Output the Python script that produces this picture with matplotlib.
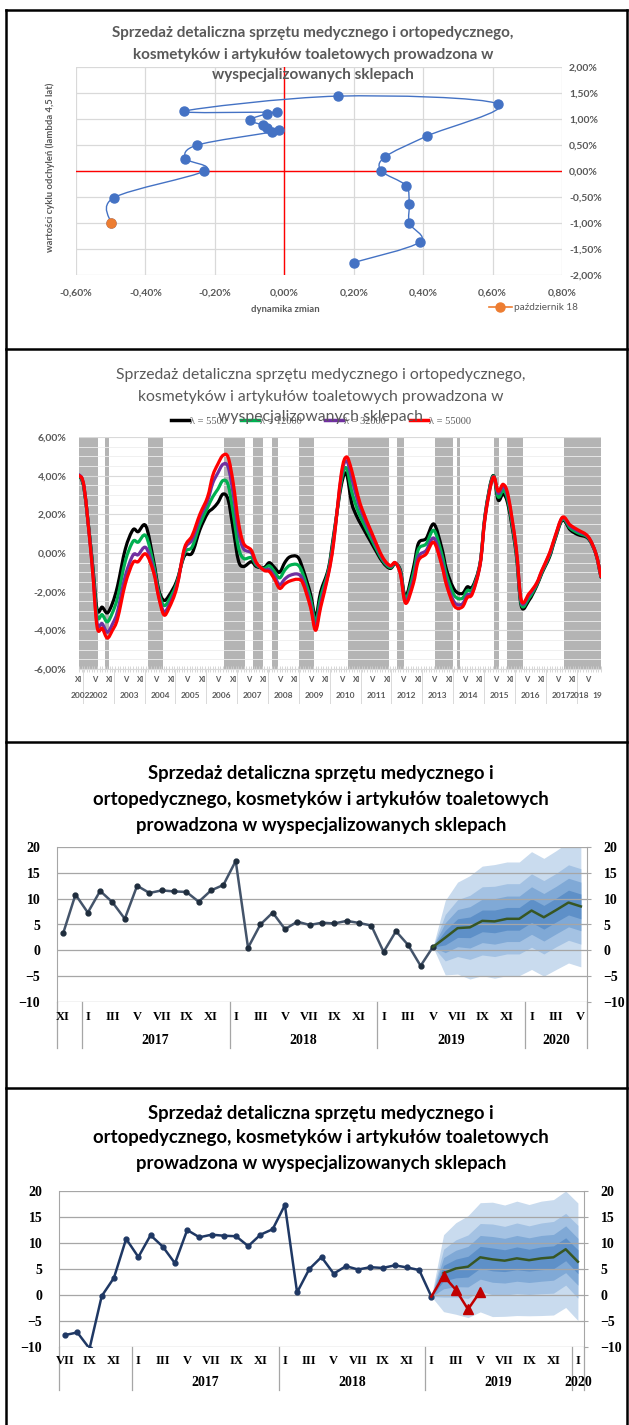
import numpy as np
import matplotlib.pyplot as plt
import matplotlib.transforms as mtransforms
from matplotlib.path import Path
from matplotlib.patches import PathPatch
from matplotlib.lines import Line2D

W, H = 629, 1425
SANS = ['Lato', 'DejaVu Sans']
SERIF = ['Liberation Serif', 'DejaVu Serif']
GREY = '#595959'
ROMAN = ['I', 'II', 'III', 'IV', 'V', 'VI', 'VII', 'VIII', 'IX', 'X', 'XI', 'XII']

# ---------------- panel 1: zegar koniunktury ----------------
clock_x = [0.20, 0.39, 0.36, 0.36, 0.35, 0.28, 0.29, 0.41, 0.615, 0.155, -0.29, -0.02,
           -0.05, -0.10, -0.06, -0.05, -0.015, -0.035, -0.25, -0.285, -0.23, -0.49, -0.50]
clock_y = [-1.76, -1.37, -1.00, -0.63, -0.28, 0.00, 0.27, 0.67, 1.29, 1.44, 1.15, 1.13,
           1.10, 0.98, 0.88, 0.83, 0.79, 0.75, 0.50, 0.24, 0.00, -0.51, -1.00]
last_label = 'październik 18'

# ---------------- panel 2: cykl dla 4 lambd (miesiące od XI 2001) ----------------
cyc_idx = [0, 2, 5, 7, 9, 11, 13, 15, 18, 21, 23, 26, 29, 31, 33, 35, 38, 41, 44, 47, 50,
           52, 54, 56, 58, 60, 62, 64, 67, 69, 72, 74, 76, 78, 80, 82, 85, 87, 90, 92, 94,
           97, 99, 102, 104, 106, 108, 110, 114, 118, 121, 123, 125, 127, 130, 132, 135,
           138, 141, 143, 146, 149, 151, 153, 156, 158, 161, 163, 165, 167, 170, 172, 175,
           178, 180, 183, 185, 188, 191, 194, 198, 201, 203]
cyc_5500 = [4.0, 3.3, -0.2, -2.9, -2.8, -3.1, -2.6, -1.7, 0.2, 1.2, 1.1, 1.4, -0.4, -1.9,
            -2.45, -2.2, -1.45, -0.15, 0.0, 1.2, 2.05, 2.3, 2.6, 3.05, 2.75, 1.2, -0.4, -0.7,
            -0.45, -0.7, -0.75, -0.5, -0.75, -1.0, -0.5, -0.2, -0.2, -0.8, -2.1, -3.3, -2.0,
            -0.8, 0.9, 3.5, 4.1, 2.6, 1.9, 1.4, 0.45, -0.45, -0.8, -0.55, -0.9, -2.25, -0.8,
            0.5, 0.75, 1.5, 0.3, -0.9, -1.9, -2.1, -1.75, -1.75, -0.5, 2.05, 4.0, 2.74, 3.05,
            2.4, -0.02, -2.75, -2.45, -1.7, -1.05, -0.2, 0.65, 1.7, 1.2, 0.95, 0.75, -0.05, -1.25]
cyc_12000 = [4.0, 3.33, -0.3, -3.22, -3.19, -3.56, -3.09, -2.3, -0.43, 0.6, 0.56, 0.89, -0.61,
             -2.04, -2.71, -2.43, -1.57, -0.01, 0.32, 1.48, 2.35, 2.9, 3.3, 3.75, 3.52, 2.04,
             0.3, -0.28, -0.24, -0.63, -0.8, -0.66, -0.96, -1.29, -0.89, -0.64, -0.61, -1.06,
             -2.35, -3.55, -2.28, -0.9, 0.76, 3.71, 4.4, 3.2, 2.36, 1.72, 0.64, -0.36, -0.75,
             -0.53, -0.97, -2.37, -1.08, 0.19, 0.47, 1.17, -0.02, -1.18, -2.2, -2.35, -1.94,
             -1.87, -0.54, 2.0, 3.97, 2.9, 3.23, 2.58, 0.09, -2.65, -2.33, -1.65, -1.0, -0.13,
             0.7, 1.75, 1.29, 1.04, 0.79, -0.04, -1.24]
cyc_32000 = [4.05, 3.38, -0.43, -3.59, -3.65, -4.1, -3.68, -3.01, -1.19, -0.11, -0.09, 0.28,
             -0.86, -2.21, -3.03, -2.7, -1.72, 0.16, 0.69, 1.82, 2.7, 3.61, 4.14, 4.59, 4.44,
             3.05, 1.14, 0.22, 0.01, -0.55, -0.87, -0.85, -1.21, -1.64, -1.35, -1.16, -1.09,
             -1.38, -2.64, -3.84, -2.62, -1.03, 0.59, 3.96, 4.77, 3.91, 2.9, 2.09, 0.87, -0.26,
             -0.68, -0.51, -1.05, -2.52, -1.42, -0.19, 0.13, 0.77, -0.39, -1.52, -2.55, -2.64,
             -2.17, -2.02, -0.58, 1.93, 3.92, 3.09, 3.44, 2.79, 0.23, -2.52, -2.18, -1.58,
             -0.93, -0.05, 0.77, 1.82, 1.39, 1.14, 0.83, -0.03, -1.23]
cyc_55000 = [4.0, 3.4, -0.5, -3.8, -3.9, -4.4, -4.0, -3.4, -1.6, -0.5, -0.45, -0.05, -1.0,
             -2.3, -3.2, -2.85, -1.8, 0.25, 0.9, 2.0, 2.9, 4.0, 4.6, 5.05, 4.95, 3.6, 1.6, 0.5,
             0.15, -0.5, -0.9, -0.96, -1.35, -1.83, -1.6, -1.45, -1.36, -1.55, -2.8, -4.0, -2.8,
             -1.1, 0.5, 4.1, 4.97, 4.3, 3.2, 2.3, 1.0, -0.2, -0.65, -0.5, -1.1, -2.6, -1.6,
             -0.4, -0.05, 0.55, -0.6, -1.7, -2.75, -2.8, -2.3, -2.1, -0.6, 1.9, 3.9, 3.2, 3.55,
             2.9, 0.3, -2.45, -2.1, -1.55, -0.9, 0.0, 0.8, 1.85, 1.45, 1.2, 0.85, -0.02, -1.22]
lambda_labels = ['λ = 5500', 'λ = 12000', 'λ = 32000', 'λ = 55000']
band_start = [0, 10, 27, 56.5, 67.5, 75, 85.5, 104.5, 123.5, 138.5, 147, 161.5, 166.5, 188.5]
band_end = [7.5, 11.5, 32.5, 64.5, 71.5, 77.5, 91.5, 120.5, 126.5, 145.5, 148, 163.5, 172.5, 203]
p2_years = ['2002', '2002', '2003', '2004', '2005', '2006', '2007', '2008', '2009', '2010',
            '2011', '2012', '2013', '2014', '2015', '2016', '2017', '2018', '19']

# ---------------- panel 3: dane XI 2016 - V 2019 + prognoza do V 2020 ----------------
hist3 = [3.3, 10.8, 7.3, 11.5, 9.3, 6.1, 12.5, 11.1, 11.6, 11.4, 11.3, 9.4, 11.6, 12.65,
         17.3, 0.5, 5.0, 7.3, 4.1, 5.55, 4.9, 5.35, 5.2, 5.7, 5.3, 4.8, -0.3, 3.7, 1.0, -3.0, 0.65]
fc3 = [0.65, 2.45, 4.3, 4.45, 5.7, 5.6, 6.1, 6.1, 7.7, 6.4, 7.8, 9.25, 8.5]
fan3_w1 = [0, 7.2, 8.9, 10.0, 10.6, 11.0, 11.0, 11.0, 11.4, 11.4, 11.5, 11.7, 11.7]
fan3_w2 = [0, 4.5, 5.5, 6.2, 6.6, 6.8, 6.8, 6.8, 7.1, 7.1, 7.1, 7.3, 7.3]
fan3_w3 = [0, 2.9, 3.6, 4.0, 4.2, 4.4, 4.4, 4.4, 4.6, 4.6, 4.6, 4.7, 4.7]
fan3_w4 = [0, 1.4, 1.8, 2.0, 2.1, 2.2, 2.2, 2.2, 2.3, 2.3, 2.3, 2.4, 2.4]

# ---------------- panel 4: dane VII 2016 - I 2019, realizacja II-V 2019, prognoza do I 2020 ----
hist4 = [-7.7, -7.2, -10.3, -0.2, 3.3, 10.8, 7.3, 11.5, 9.3, 6.1, 12.5, 11.1, 11.6, 11.4,
         11.3, 9.4, 11.6, 12.65, 17.3, 0.5, 5.0, 7.3, 4.1, 5.55, 4.9, 5.35, 5.2, 5.7, 5.3, 4.8, -0.3]
real4 = [-0.3, 3.7, 1.0, -2.75, 0.65]
fc4 = [-0.3, 4.2, 5.1, 5.45, 7.25, 6.85, 6.6, 7.05, 6.7, 7.05, 7.25, 8.8, 6.4]
fan4_w1 = [0, 7.4, 8.8, 9.8, 10.5, 11.0, 10.7, 11.0, 10.7, 11.0, 11.1, 11.2, 11.3]
fan4_w2 = [0, 4.6, 5.5, 6.1, 6.5, 6.8, 6.6, 6.8, 6.6, 6.8, 6.9, 6.9, 7.0]
fan4_w3 = [0, 3.0, 3.5, 3.9, 4.2, 4.4, 4.3, 4.4, 4.3, 4.4, 4.4, 4.5, 4.5]
fan4_w4 = [0, 1.5, 1.8, 2.0, 2.1, 2.2, 2.1, 2.2, 2.1, 2.2, 2.2, 2.2, 2.3]

title_lines = ['Sprzedaż detaliczna sprzętu medycznego i ortopedycznego,',
               'kosmetyków i artykułów toaletowych prowadzona w',
               'wyspecjalizowanych sklepach']
title_lines_b = ['Sprzedaż detaliczna sprzętu medycznego i',
                 'ortopedycznego, kosmetyków i artykułów toaletowych',
                 'prowadzona w wyspecjalizowanych sklepach']

fig = plt.figure(figsize=(W / 100, H / 100), dpi=100)


def box(x0, y0, x1, y1):
    return [x0 / W, 1 - y1 / H, (x1 - x0) / W, (y1 - y0) / H]


def fy(py):
    return 1 - py / H


def ftext(px, py, s, **kw):
    fig.text(px / W, fy(py), s, **kw)


def pct(v, nd=2):
    s = f'{v:.{nd}f}%'.replace('.', ',')
    return '0,00%' if s == '-0,00%' else s


def smooth(xs, ys):
    # wygładzona linia jak w Excelu (Catmull-Rom -> Bezier)
    p = np.column_stack([xs, ys])
    n = len(p)
    verts, codes = [p[0]], [Path.MOVETO]
    for i in range(n - 1):
        p0 = p[i - 1] if i > 0 else p[i]
        p3 = p[i + 2] if i + 2 < n else p[i + 1]
        verts += [p[i] + (p[i + 1] - p0) / 6, p[i + 1] - (p3 - p[i]) / 6, p[i + 1]]
        codes += [Path.CURVE4] * 3
    return Path(verts, codes)


# ramki paneli
for seg in [((6, 627), (10, 10)), ((6, 6), (10, 1425)), ((627, 627), (10, 1425)),
            ((6, 627), (349, 349)), ((6, 627), (742, 742)), ((6, 627), (1088, 1088))]:
    fig.add_artist(Line2D([x / W for x in seg[0]], [fy(y) for y in seg[1]],
                          color='black', lw=1.8))

# ======== panel 1 ========
ax1 = fig.add_axes(box(76, 67, 562, 275))
ax1.set_xlim(-0.6, 0.8)
ax1.set_ylim(-2, 2)
xt = np.arange(-0.6, 0.81, 0.2)
yt = np.arange(-2, 2.01, 0.5)
ax1.set_xticks(xt, [pct(v) for v in xt])
ax1.set_yticks(yt, [pct(v) for v in yt])
ax1.yaxis.tick_right()
ax1.tick_params(length=0, labelsize=7.5, labelcolor=GREY)
ax1.tick_params(axis='x', pad=10)
ax1.tick_params(axis='y', pad=5)
for lab in ax1.get_xticklabels() + ax1.get_yticklabels():
    lab.set_family(SANS)
    lab.set_weight('bold')
for s in ax1.spines.values():
    s.set_visible(False)
ax1.grid(color='#d9d9d9', lw=0.9)
ax1.axhline(0, color='#ff0000', lw=1.0, zorder=2)
ax1.axvline(0, color='#ff0000', lw=1.0, zorder=2)
ax1.add_patch(PathPatch(smooth(clock_x, clock_y), fc='none', ec='#4472c4', lw=1.0, zorder=3))
ax1.plot(clock_x, clock_y, 'o', color='#4472c4', ms=6.5, zorder=4)
ax1.plot(clock_x[-1:], clock_y[-1:], 'o', color='#ed7d31', ms=6.5, zorder=5)
for i, t in enumerate(title_lines):
    ftext(313, [33, 55, 75][i], t, ha='center', va='center', fontsize=11,
          fontweight='bold', color=GREY, family=SANS)
ftext(50, 167, 'wartości cyklu odchyleń (lambda 4,5 lat)', rotation=90, ha='center',
      va='center', fontsize=6.8, fontweight='bold', color=GREY, family=SANS)
ftext(285, 309, 'dynamika zmian', ha='center', va='center', fontsize=6.8,
      fontweight='bold', color=GREY, family=SANS)
fig.add_artist(Line2D([489 / W, 512 / W], [fy(307)] * 2, color='#ed7d31', lw=1.2))
fig.add_artist(Line2D([500 / W], [fy(307)], marker='o', color='#ed7d31', ms=6.5))
ftext(514, 307, last_label, ha='left', va='center', fontsize=7.2, color=GREY, family=SANS)

# ======== panel 2 ========
ax2 = fig.add_axes(box(79, 437, 601, 669))
ax2.set_xlim(0, 203)
ax2.set_ylim(-6, 6)
yt2 = np.arange(-6, 6.01, 2)
ax2.set_yticks(yt2, [pct(v) for v in yt2])
ax2.set_yticks(np.arange(-6, 6.01, 0.5), minor=True)
ax2.set_xticks([])
ax2.set_xticks(np.arange(0, 204), minor=True)
ax2.tick_params(axis='y', which='both', length=0, labelsize=7.5, labelcolor=GREY, pad=9)
ax2.tick_params(axis='x', which='minor', length=4, color='#d0d0d0', width=0.6, direction='inout')
for lab in ax2.get_yticklabels():
    lab.set_family(SANS)
    lab.set_weight('bold')
for s in ax2.spines.values():
    s.set_visible(False)
ax2.spines['bottom'].set_visible(True)
ax2.spines['bottom'].set_color('#d9d9d9')
ax2.grid(axis='y', which='minor', color='#eeeeee', lw=0.6)
ax2.grid(axis='y', which='major', color='#d9d9d9', lw=0.8)
for b0, b1 in zip(band_start, band_end):
    ax2.axvspan(b0, b1, color='#b4b4b4', lw=0, zorder=1)
cyc_colors = ['#000000', '#00b050', '#7030a0', '#ff0000']
for vals, c in zip([cyc_5500, cyc_12000, cyc_32000, cyc_55000], cyc_colors):
    ax2.add_patch(PathPatch(smooth(cyc_idx, vals), fc='none', ec=c, lw=2.3, zorder=3,
                            joinstyle='round', capstyle='round'))
tr2 = mtransforms.blended_transform_factory(ax2.transData, fig.transFigure)
for i in range(204):
    m = (10 + i) % 12
    if m in (10, 4):
        ax2.text(i, fy(679), ROMAN[m], transform=tr2, ha='center', va='center',
                 fontsize=5.5, color=GREY, family=SANS, fontweight='bold')
    if m == 0:
        ax2.plot([i - 0.5] * 2, [fy(669), fy(703)], transform=tr2, color='#d9d9d9',
                 lw=0.7, clip_on=False)
year_pos = [0.5] + [7.5 + 12 * k for k in range(16)] + [194.5, 201.5]
for yl, xp in zip(p2_years, year_pos):
    ax2.text(xp, fy(696), yl, transform=tr2, ha='center', va='center', fontsize=6,
             color=GREY, family=SANS, fontweight='bold')
for i, t in enumerate(title_lines):
    ftext(321, [375, 397, 417][i], t, ha='center', va='center', fontsize=11.3,
          color=GREY, family=SANS)
for (x0, c, lbl) in zip([171, 241, 325, 410], cyc_colors, lambda_labels):
    fig.add_artist(Line2D([x0 / W, (x0 + 18) / W], [fy(420)] * 2, color=c, lw=2.5))
    ftext(x0 + 19, 421, lbl, ha='left', va='center', fontsize=7.5, color=GREY, family=SERIF)


# ======== panele 3 i 4 (wykresy wachlarzowe) ========
def fan_panel(rect, month0, year0, n, hist, hist_color, mk_color, fc, fan_ws, fc_from,
              real, label_months, title_y, sep_bottom, row_y):
    ax = fig.add_axes(box(*rect))
    ax.set_xlim(-0.5, n - 0.5)
    ax.set_ylim(-10, 20)
    ax.set_yticks(np.arange(-10, 20.1, 5))
    ax.set_xticks([])
    ax.tick_params(axis='y', left=False, right=True, labelleft=True, labelright=True,
                   length=3, color='#a6a6a6', labelsize=10, pad=9)
    for lab in ax.get_yticklabels():
        lab.set_family(SERIF)
        lab.set_weight('bold')
    for s in ['top', 'bottom']:
        ax.spines[s].set_visible(False)
    for s in ['left', 'right']:
        ax.spines[s].set_color('#a6a6a6')
    for v in np.arange(-10, 20.1, 5):
        ax.axhline(v, color='#a6a6a6', lw=0.9, zorder=2)
    xf = np.arange(fc_from, fc_from + len(fc))
    fcv = np.array(fc)
    for w, c in zip(fan_ws, ['#c9dbee', '#a4c2e3', '#80a9d6', '#5e90c8']):
        w = np.array(w)
        ax.fill_between(xf, fcv - w, fcv + w, color=c, lw=0, zorder=1)
    ax.plot(np.arange(len(hist)), hist, color=hist_color, lw=1.8, marker='o', ms=3.5,
            mfc=mk_color, mec=mk_color, zorder=4)
    if real is not None:
        xr = np.arange(len(hist) - 1, len(hist) - 1 + len(real))
        ax.plot(xr, real, color='#c00000', lw=1.8, zorder=5)
        ax.plot(xr[1:], real[1:], '^', color='#c00000', ms=7, zorder=6)
        ax.plot(xf[1:], fc[1:], color='#375623', lw=1.8, zorder=4)
    else:
        ax.plot(xf, fc, color='#375623', lw=1.8, zorder=4)
    tr = mtransforms.blended_transform_factory(ax.transData, fig.transFigure)
    groups = {}
    for i in range(n):
        m = (month0 + i) % 12
        y = year0 + (month0 + i) // 12
        groups.setdefault(y, []).append(i)
        if m in label_months:
            ax.text(i, fy(row_y[0]), ROMAN[m], transform=tr, ha='center', va='center',
                    fontsize=9, fontweight='bold', family=SERIF)
    keys = sorted(groups)
    for y in keys:
        idx = groups[y]
        ax.plot([idx[0] - 0.5] * 2, [fy(rect[3]), fy(sep_bottom)], transform=tr,
                color='#a6a6a6', lw=0.9, clip_on=False)
        if y != keys[0]:
            ax.text((idx[0] + idx[-1]) / 2, fy(row_y[1]), str(y), transform=tr,
                    ha='center', va='center', fontsize=10, fontweight='bold', family=SERIF)
    ax.plot([n - 0.5] * 2, [fy(rect[3]), fy(sep_bottom)], transform=tr,
            color='#a6a6a6', lw=0.9, clip_on=False)
    for i, t in enumerate(title_lines_b):
        ftext(321, title_y[i], t, ha='center', va='center', fontsize=13.3,
              fontweight='bold', family=SANS)
    return ax


fan_panel((57, 847, 587, 1002), 10, 2016, 43, hist3, '#44546a', '#1f2d3d', fc3,
          [fan3_w1, fan3_w2, fan3_w3, fan3_w4], 30, None, (0, 2, 4, 6, 8, 10),
          (773, 800, 826), 1048, (1017, 1040))
fan_panel((59, 1191, 584, 1347), 6, 2016, 43, hist4, '#1f3864', '#1f3864', fc4,
          [fan4_w1, fan4_w2, fan4_w3, fan4_w4], 30, real4, (0, 2, 4, 6, 8, 10),
          (1113, 1138, 1163), 1390, (1361, 1383))

fig.savefig('out.png', dpi=100)
